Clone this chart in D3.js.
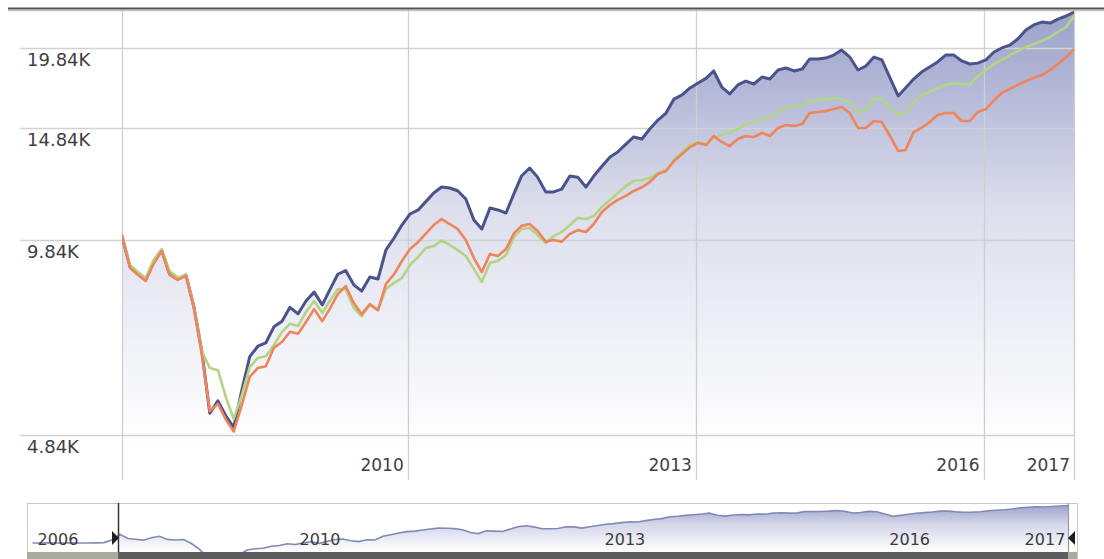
<!DOCTYPE html>
<html>
<head>
<meta charset="utf-8">
<script src="https://cdn.jsdelivr.net/npm/d3@7"></script>
<style>
  html, body { margin: 0; padding: 0; background: #ffffff; }
  svg { display: block; }
  text { font-family: "DejaVu Sans", Verdana, sans-serif; }
</style>
</head>
<body>
<svg id="chart" width="1104" height="559"></svg>
<script>
// Growth of 10,000 — monthly values, Jan 2007 to Dec 2016
const monthCount = 120;
const monthDates = d3.range(monthCount).map(i => new Date(2007, i, 10));

const fundValues = [
  10000, 8930, 8730, 8520, 9100, 9505, 8710, 8550, 8680, 7750,
  6560, 5240, 5480, 5180, 4970, 5700, 6440, 6690, 6770, 7180,
  7330, 7710, 7530, 7890, 8150, 7780, 8210, 8700, 8820, 8370,
  8180, 8610, 8550, 9500, 9930, 10410, 10840, 11000, 11330, 11700,
  11960, 11920, 11800, 11450, 10600, 10260, 11080, 11000, 10880, 11700,
  12450, 12820, 12400, 11750, 11750, 11870, 12450, 12400, 11960, 12450,
  12900, 13350, 13590, 13990, 14360, 14250, 14780, 15275, 15670, 16490,
  16740, 17170, 17490, 17800, 18270, 17230, 16800, 17360, 17610, 17420,
  17870, 17740, 18335, 18470, 18270, 18400, 19080, 19080, 19150, 19360,
  19720, 19220, 18335, 18600, 19220, 19020, 17810, 16680, 17170, 17740,
  18200, 18540, 18880, 19360, 19360, 18950, 18740, 18800, 19020, 19580,
  19870, 20080, 20530, 21210, 21610, 21840, 21760, 22080, 22330, 22650
];

const benchmarkValues = [
  10000, 8900, 8690, 8490, 9030, 9470, 8680, 8520, 8650, 7710,
  6480, 5280, 5420, 5110, 4900, 5400, 5980, 6180, 6220, 6650,
  6800, 7050, 7000, 7310, 7660, 7330, 7660, 8090, 8330, 7830,
  7520, 7800, 7630, 8390, 8700, 9130, 9540, 9790, 10080, 10410,
  10640, 10450, 10260, 9860, 9230, 8770, 9370, 9300, 9540, 10110,
  10380, 10450, 10190, 9800, 9860, 9800, 10080, 10220, 10150, 10450,
  10920, 11200, 11410, 11580, 11790, 11950, 12180, 12540, 12680, 13150,
  13490, 13840, 14050, 13940, 14410, 14100, 13890, 14250, 14410, 14360,
  14570, 14410, 14840, 15000, 14950, 15050, 15670, 15730, 15780, 15900,
  16020, 15670, 14840, 14840, 15220, 15160, 14410, 13640, 13690, 14620,
  14840, 15160, 15560, 15670, 15670, 15220, 15220, 15730, 15900, 16430,
  16860, 17110, 17360, 17610, 17810, 18000, 18340, 18740, 19220, 19790
];

const categoryValues = [
  10000, 9000, 8790, 8580, 9160, 9540, 8800, 8600, 8680, 7750,
  6560, 6180, 6130, 5540, 5130, 5600, 6200, 6410, 6450, 6720,
  7050, 7260, 7200, 7580, 7890, 7550, 7890, 8240, 8240, 7690,
  7460, 7780, 7630, 8240, 8430, 8580, 9000, 9270, 9570, 9640,
  9840, 9680, 9500, 9300, 8870, 8460, 9070, 9130, 9330, 9970,
  10260, 10300, 10040, 9750, 10000, 10150, 10410, 10680, 10640, 10760,
  11120, 11410, 11700, 12000, 12230, 12270, 12360, 12590, 12730, 13200,
  13590, 13940, 14100, 14000, 14360, 14460, 14620, 14780, 15050, 15160,
  15330, 15440, 15730, 16020, 16080, 16080, 16370, 16430, 16490, 16550,
  16490, 16310, 15670, 15840, 16550, 16490, 15960, 15560, 15670, 16310,
  16740, 16920, 17170, 17360, 17490, 17420, 17420, 17930, 18340, 18740,
  19020, 19360, 19650, 19940, 20160, 20380, 20680, 21060, 21450, 22330
];

// Earlier fund history shown only in the navigator (Feb–Dec 2006)
const historyDates = d3.range(11).map(i => new Date(2006, 1 + i, 10));
const historyValues = [7870, 7870, 7900, 7870, 7880, 7900, 7870, 7880, 7900, 7950, 8560];

// Axis ticks and labels
const yTickValues = [4840, 9840, 14840, 19840];
const xTickDates = [new Date(2010, 0, 1), new Date(2013, 0, 1), new Date(2016, 0, 1), new Date(2016, 11, 10)];
const xTickLabels = ["2010", "2013", "2016", "2017"];
const navTickDates = [new Date(2006, 4, 18), new Date(2009, 1, 12), new Date(2012, 3, 22), new Date(2015, 3, 15), new Date(2016, 8, 13)];
const navTickLabels = ["2006", "2010", "2013", "2016", "2017"];

const colors = { fund: "#4b538c", benchmark: "#f0845a", category: "#b2d585" };

const svg = d3.select("#chart");
const defs = svg.append("defs");

// ---------- main plot ----------
const plot = { left: 122, right: 1074, top: 8, bottom: 448 };
const x = d3.scaleTime().domain(d3.extent(monthDates)).range([plot.left, plot.right]);
const y = d3.scaleLog().domain([4614, 22990]).range([plot.bottom, plot.top]);

const fillGrad = defs.append("linearGradient")
  .attr("id", "fundFill").attr("gradientUnits", "userSpaceOnUse")
  .attr("x1", 0).attr("y1", plot.top).attr("x2", 0).attr("y2", plot.bottom);
[[0, "#9aa0ca"], [0.22, "#b9bdda"], [0.45, "#dcdeec"], [0.75, "#f0f1f7"], [1, "#ffffff"]].forEach(([o, c]) =>
  fillGrad.append("stop").attr("offset", o).attr("stop-color", c));

defs.append("clipPath").attr("id", "plotClip").append("rect")
  .attr("x", plot.left).attr("y", plot.top).attr("width", plot.right - plot.left).attr("height", plot.bottom - plot.top);

const fundSeries = monthDates.map((d, i) => ({ date: d, value: fundValues[i] }));
const benchmarkSeries = monthDates.map((d, i) => ({ date: d, value: benchmarkValues[i] }));
const categorySeries = monthDates.map((d, i) => ({ date: d, value: categoryValues[i] }));

const area = d3.area().x(d => x(d.date)).y0(plot.bottom).y1(d => y(d.value));
const line = d3.line().x(d => x(d.date)).y(d => y(d.value));

svg.append("path").datum(fundSeries).attr("d", area)
  .attr("fill", "url(#fundFill)").attr("clip-path", "url(#plotClip)");

// horizontal grid + value labels
const yGrid = svg.append("g");
yGrid.selectAll("line").data(yTickValues).join("line")
  .attr("x1", 20).attr("x2", plot.right)
  .attr("y1", d => Math.round(y(d)) + 0.5).attr("y2", d => Math.round(y(d)) + 0.5)
  .attr("stroke", "#d2d2d2").attr("stroke-width", 1.5);
yGrid.selectAll("text").data(yTickValues).join("text")
  .attr("x", 27).attr("y", d => y(d) + 18)
  .attr("font-size", 18).attr("fill", "#404040")
  .text(d => d3.format(".2f")(d / 1000) + "K");

// vertical grid + date labels
const xGrid = svg.append("g");
xGrid.selectAll("line").data([monthDates[0], ...xTickDates]).join("line")
  .attr("x1", d => Math.round(x(d)) + 0.5).attr("x2", d => Math.round(x(d)) + 0.5)
  .attr("y1", plot.top).attr("y2", 480)
  .attr("stroke", "#cfcfcf").attr("stroke-width", 1.3);
xGrid.selectAll("text").data(xTickDates).join("text")
  .attr("x", d => x(d) - 4).attr("y", 471)
  .attr("text-anchor", "end").attr("font-size", 17).attr("fill", "#404040")
  .text((d, i) => xTickLabels[i]);

// series lines
const lines = svg.append("g").attr("clip-path", "url(#plotClip)")
  .attr("fill", "none").attr("stroke-linejoin", "round").attr("stroke-linecap", "round");
lines.append("path").datum(fundSeries).attr("d", line).attr("stroke", colors.fund).attr("stroke-width", 3);
lines.append("path").datum(categorySeries).attr("d", line).attr("stroke", colors.category).attr("stroke-width", 2.6);
lines.append("path").datum(benchmarkSeries).attr("d", line).attr("stroke", colors.benchmark).attr("stroke-width", 2.6);

// top frame line
svg.append("line").attr("x1", 8).attr("x2", 1104).attr("y1", 10.5).attr("y2", 10.5)
  .attr("stroke", "#c4c4c4").attr("stroke-width", 1.5);
svg.append("line").attr("x1", 8).attr("x2", 1104).attr("y1", 8.5).attr("y2", 8.5)
  .attr("stroke", "#555555").attr("stroke-width", 2);

// ---------- navigator ----------
const nav = { left: 27, right: 1077, top: 503, bottom: 552, selLeft: 118, selRight: 1068 };
const navX = d3.scaleTime().domain(d3.extent(monthDates)).range([120, 1068]);
const navY = d3.scaleLog().domain([6100, 23000]).range([552, 505]);

svg.append("rect").attr("x", nav.left + 0.5).attr("y", nav.top + 0.5)
  .attr("width", nav.right - nav.left).attr("height", 60)
  .attr("fill", "#ffffff").attr("stroke", "#c6c6c6");

const navGrad = defs.append("linearGradient")
  .attr("id", "navFill").attr("gradientUnits", "userSpaceOnUse")
  .attr("x1", 0).attr("y1", 505).attr("x2", 0).attr("y2", nav.bottom);
[[0, "#9ea4cc"], [0.4, "#d3d5e9"], [1, "#ffffff"]].forEach(([o, c]) =>
  navGrad.append("stop").attr("offset", o).attr("stop-color", c));

defs.append("clipPath").attr("id", "navClip").append("rect")
  .attr("x", nav.left + 1).attr("y", nav.top + 1).attr("width", nav.selRight - nav.left - 1).attr("height", nav.bottom - nav.top - 1);

const navSeries = historyDates.map((d, i) => ({ date: d, value: historyValues[i] }))
  .concat(fundSeries);
const navArea = d3.area().x(d => navX(d.date)).y0(nav.bottom).y1(d => navY(d.value));
const navLine = d3.line().x(d => navX(d.date)).y(d => navY(d.value));

const navG = svg.append("g").attr("clip-path", "url(#navClip)");
navG.append("path").datum(navSeries.filter(d => d.date >= monthDates[0])).attr("d", navArea).attr("fill", "url(#navFill)");
navG.append("path").datum(navSeries).attr("d", navLine)
  .attr("fill", "none").attr("stroke", "#8189b9").attr("stroke-width", 1.6);

svg.append("g").selectAll("text").data(navTickDates).join("text")
  .attr("x", d => navX(d)).attr("y", 545)
  .attr("text-anchor", "middle").attr("font-size", 16).attr("fill", "#3c3c3c")
  .text((d, i) => navTickLabels[i]);

// scrollbar
svg.append("rect").attr("x", nav.left).attr("y", nav.bottom).attr("width", nav.right - nav.left).attr("height", 7)
  .attr("fill", "#a7ac9e");
svg.append("rect").attr("x", nav.selLeft).attr("y", nav.bottom).attr("width", nav.selRight - nav.selLeft).attr("height", 7)
  .attr("fill", "#5d5d5d");

// range handles
svg.append("line").attr("x1", nav.selLeft + 0.5).attr("x2", nav.selLeft + 0.5).attr("y1", nav.top).attr("y2", nav.bottom)
  .attr("stroke", "#333333").attr("stroke-width", 1.5);
svg.append("line").attr("x1", nav.selRight + 0.5).attr("x2", nav.selRight + 0.5).attr("y1", nav.top).attr("y2", nav.bottom)
  .attr("stroke", "#9a9a9a").attr("stroke-width", 1.2);
svg.append("path").attr("d", `M${nav.selLeft - 6},531 L${nav.selLeft + 1},538 L${nav.selLeft - 6},545 Z`).attr("fill", "#1e1e1e");
svg.append("path").attr("d", `M${nav.selRight + 7},531 L${nav.selRight},538 L${nav.selRight + 7},545 Z`).attr("fill", "#1e1e1e");
</script>
</body>
</html>
